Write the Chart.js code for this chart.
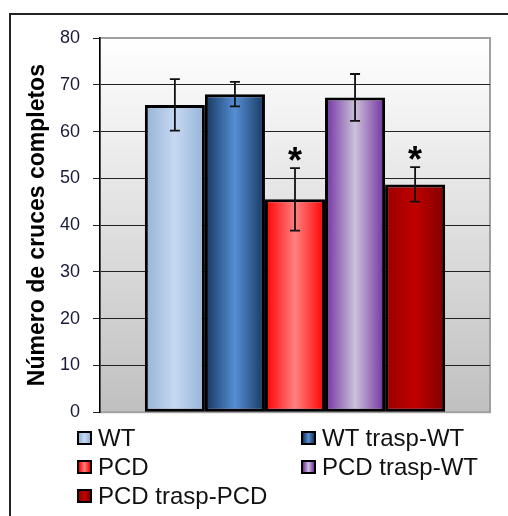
<!DOCTYPE html>
<html>
<head>
<meta charset="utf-8">
<script src="https://cdn.jsdelivr.net/npm/chart.js@4/dist/chart.umd.min.js"></script>
<style>
  body { margin: 0; width: 508px; height: 516px; overflow: hidden; background: #fff; font-family: "Liberation Sans", Arial, sans-serif; position: relative; }
  #frame { position: absolute; left: 9px; top: 13px; width: 600px; height: 600px; border: 2px solid #222; box-sizing: border-box; }
  #wrap { position: absolute; left: 0; top: 0; width: 508px; height: 436px; }
  #legend { position: absolute; left: 77px; top: 423px; display: grid; grid-template-columns: 224px 200px; grid-auto-rows: 29px; font-size: 24px; color: #111; }
  .item { display: flex; align-items: center; white-space: nowrap; }
  .box { width: 11px; height: 10px; border: 2px solid #000; margin-right: 6px; }
</style>
</head>
<body>
<div id="frame"></div>
<div id="wrap"><canvas id="barChart"></canvas></div>
<div id="legend"></div>
<script>
const groups = ["WT", "WT trasp-WT", "PCD", "PCD trasp-WT", "PCD trasp-PCD"];
const means = [65.7, 68.0, 45.5, 67.3, 48.7];
const errors = [5.5, 2.6, 6.7, 5.0, 3.7];
const significant = [false, false, true, false, true];
const yTicks = [0, 10, 20, 30, 40, 50, 60, 70, 80];

// left edge, centre, right edge of each bar's shading
const shades = [
  ["#95b3d7", "#c6d9f1", "#95b3d7"],
  ["#17375e", "#558ed5", "#17375e"],
  ["#ff0000", "#ff8080", "#ff0000"],
  ["#7030a0", "#ccc1da", "#7030a0"],
  ["#990000", "#c00000", "#800000"]
];

const catPct = 0.77;

function barFill(i) {
  return function (ctx) {
    const chart = ctx.chart;
    const area = chart.chartArea;
    const xs = chart.scales.x;
    if (!area || !xs) return shades[i][1];
    const cx = xs.getPixelForValue(0);
    const groupW = area.width * catPct;
    const w = groupW / groups.length;
    const left = cx - groupW / 2 + i * w;
    const g = chart.ctx.createLinearGradient(left, 0, left + w, 0);
    g.addColorStop(0, shades[i][0]);
    g.addColorStop(0.5, shades[i][1]);
    g.addColorStop(1, shades[i][2]);
    return g;
  };
}

const plotBack = {
  id: "plotBack",
  beforeDraw(chart) {
    const { ctx, chartArea: a } = chart;
    ctx.save();
    const g = ctx.createLinearGradient(0, a.top, 0, a.bottom);
    g.addColorStop(0, "#ffffff");
    g.addColorStop(1, "#c0c0c0");
    ctx.fillStyle = g;
    ctx.fillRect(a.left, a.top, a.width, a.height);
    ctx.strokeStyle = "#a0a0a0";
    ctx.lineWidth = 2;
    ctx.strokeRect(a.left, a.top, a.width, a.height);
    ctx.restore();
  }
};

const errorBars = {
  id: "errorBars",
  afterDatasetsDraw(chart) {
    const ctx = chart.ctx;
    const y = chart.scales.y;
    ctx.save();
    ctx.strokeStyle = "#111";
    ctx.lineWidth = 1.8;
    groups.forEach((name, i) => {
      const el = chart.getDatasetMeta(i).data[0];
      if (!el) return;
      const top = y.getPixelForValue(means[i] + errors[i]);
      const bot = y.getPixelForValue(means[i] - errors[i]);
      ctx.beginPath();
      ctx.moveTo(el.x, top); ctx.lineTo(el.x, bot);
      ctx.moveTo(el.x - 5, top); ctx.lineTo(el.x + 5, top);
      ctx.moveTo(el.x - 5, bot); ctx.lineTo(el.x + 5, bot);
      ctx.stroke();
      if (significant[i]) {
        ctx.fillStyle = "#000";
        ctx.font = "bold 36px 'Liberation Sans', Arial";
        ctx.textAlign = "center";
        ctx.textBaseline = "alphabetic";
        ctx.fillText("*", el.x, top + 5);
      }
    });
    ctx.restore();
  }
};

new Chart(document.getElementById("barChart"), {
  type: "bar",
  data: {
    labels: [""],
    datasets: groups.map((name, i) => ({
      label: name,
      data: [means[i]],
      backgroundColor: barFill(i),
      borderColor: "#000",
      borderWidth: 3,
      borderSkipped: false
    }))
  },
  options: {
    responsive: true,
    maintainAspectRatio: false,
    animation: false,
    categoryPercentage: catPct,
    barPercentage: 1,
    layout: { padding: { top: 38, right: 18, bottom: 3, left: 0 } },
    plugins: { legend: { display: false }, tooltip: { enabled: false } },
    scales: {
      x: { display: false },
      y: {
        min: 0,
        max: 80,
        afterFit(scale) { scale.width = 100; },
        afterBuildTicks(scale) { scale.ticks = yTicks.map(v => ({ value: v })); },
        ticks: {
          padding: 13,
          color: "#1a1a3a",
          font: { family: "'Liberation Sans', Arial", size: 18 }
        },
        grid: {
          tickLength: 7,
          tickColor: "#222",
          lineWidth: 1,
          color: ctx => (ctx.tick && (ctx.tick.value === 80 || ctx.tick.value === 0)) ? "rgba(0,0,0,0)" : "#222"
        },
        border: { color: "#000", width: 1.5 },
        title: {
          display: true,
          text: "Número de cruces completos",
          color: "#000",
          padding: { top: 24, bottom: 0 },
          font: { family: "'Liberation Sans', Arial", size: 23, weight: "bold" }
        }
      }
    }
  },
  plugins: [plotBack, errorBars]
});

const legend = document.getElementById("legend");
groups.forEach((name, i) => {
  const item = document.createElement("div");
  item.className = "item";
  const box = document.createElement("span");
  box.className = "box";
  box.style.background = "linear-gradient(to right," + shades[i].join(",") + ")";
  item.appendChild(box);
  item.appendChild(document.createTextNode(name));
  legend.appendChild(item);
});
</script>
</body>
</html>
